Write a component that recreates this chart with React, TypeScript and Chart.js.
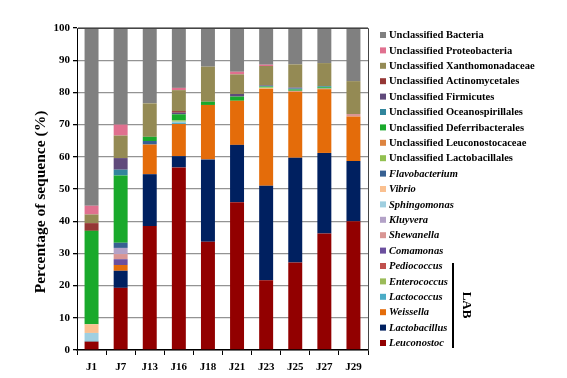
import React, { useEffect, useRef } from "react";
import { Chart, registerables } from "chart.js";

Chart.register(...registerables);

const categories = ["J1", "J7", "J13", "J16", "J18", "J21", "J23", "J25", "J27", "J29"];
const yTicks = [0, 10, 20, 30, 40, 50, 60, 70, 80, 90, 100];
const yTitle = "Percentage of sequence (%)";

// bottom of stack first
const leuconostoc = [2.6, 19.3, 38.5, 56.7, 33.6, 45.9, 21.7, 27.2, 36.2, 40.0];
const lactobacillus = [0, 5.3, 16.1, 3.5, 25.6, 17.8, 29.3, 32.5, 25.0, 18.7];
const weissella = [0, 1.8, 9.2, 10.0, 16.9, 13.7, 30.1, 20.5, 19.8, 13.8];
const lactococcus = [0.3, 0, 0, 0.4, 0, 0, 0, 0, 0, 0];
const enterococcus = [0, 0, 0, 0, 0, 0, 0, 0, 0, 0];
const pediococcus = [0, 0, 0, 0, 0, 0, 0, 0, 0, 0];
const comamonas = [0, 1.8, 0, 0, 0, 0, 0, 0, 0, 0];
const shewanella = [0, 1.6, 0, 0, 0, 0, 0, 0.3, 0.2, 0.8];
const kluyvera = [0, 1.9, 0, 0, 0, 0, 0, 0, 0, 0];
const sphingomonas = [2.4, 0, 0, 0.3, 0, 0, 0, 0, 0, 0];
const vibrio = [2.7, 0, 0, 0, 0, 0, 0.2, 0, 0, 0];
const flavobacterium = [0, 1.6, 1.1, 0, 0, 0, 0, 0, 0, 0];
const uncLactobacillales = [0, 0, 0, 0.4, 0, 0, 0.3, 0, 0, 0];
const uncLeuconostocaceae = [0, 0, 0, 0, 0, 0, 0, 0, 0, 0];
const uncDeferribacterales = [29.0, 20.9, 1.3, 1.9, 1.0, 1.3, 0.2, 0.4, 0.4, 0];
const uncOceanospirillales = [0, 1.8, 0, 0, 0, 0, 0.2, 0.3, 0.3, 0];
const uncFirmicutes = [0, 3.6, 0, 0.5, 0, 0.8, 0.2, 0.3, 0, 0];
const uncActinomycetales = [2.4, 0, 0, 0.5, 0, 0, 0, 0, 0, 0];
const uncXanthomonadaceae = [2.7, 7.0, 10.4, 6.5, 10.9, 6.1, 6.0, 7.2, 7.2, 10.2];
const uncProteobacteria = [2.7, 3.4, 0, 0.7, 0, 0.8, 0.4, 0, 0, 0];
const uncBacteria = [55.2, 30.0, 23.4, 18.6, 12.0, 13.6, 11.4, 11.3, 10.9, 16.5];

const seriesLabels = [
  "Leuconostoc", "Lactobacillus", "Weissella", "Lactococcus", "Enterococcus", "Pediococcus",
  "Comamonas", "Shewanella", "Kluyvera", "Sphingomonas", "Vibrio", "Flavobacterium",
  "Unclassified Lactobacillales", "Unclassified Leuconostocaceae", "Unclassified Deferribacterales",
  "Unclassified Oceanospirillales", "Unclassified Firmicutes", "Unclassified Actinomycetales",
  "Unclassified Xanthomonadaceae", "Unclassified Proteobacteria", "Unclassified Bacteria",
];
const seriesValues = [
  leuconostoc, lactobacillus, weissella, lactococcus, enterococcus, pediococcus,
  comamonas, shewanella, kluyvera, sphingomonas, vibrio, flavobacterium,
  uncLactobacillales, uncLeuconostocaceae, uncDeferribacterales, uncOceanospirillales,
  uncFirmicutes, uncActinomycetales, uncXanthomonadaceae, uncProteobacteria, uncBacteria,
];
const seriesColors = [
  "#920000", "#002060", "#e46c0a", "#4bacc6", "#9bbb59", "#c0504d",
  "#6b4f9e", "#d99694", "#b3a2c7", "#9fcfe0", "#fac090", "#376092",
  "#92c050", "#dd8440", "#19a92b", "#31859c",
  "#604a7b", "#953735", "#948a54", "#e0708f", "#808080",
];

const SERIF = '"Liberation Serif", "Times New Roman", serif';

const legendPlugin = {
  id: "customLegend",
  afterDraw(chart: any) {
    const ctx = chart.ctx;
    const ds = chart.data.datasets;
    const n = ds.length;
    const x0 = 380;
    const y0 = 35;
    const step = 15.4;
    ctx.save();
    ctx.textBaseline = "middle";
    ctx.textAlign = "left";
    for (let i = 0; i < n; i++) {
      const d = ds[n - 1 - i];
      const y = y0 + i * step;
      ctx.fillStyle = d.backgroundColor;
      ctx.fillRect(x0, y - 3, 6, 6);
      const italic = !d.label.startsWith("Unclassified");
      ctx.font = (italic ? "italic " : "") + "bold 10.5px " + SERIF;
      ctx.fillStyle = "#000";
      ctx.fillText(d.label, x0 + 9, y + 0.5);
    }
    // LAB bracket
    ctx.strokeStyle = "#000";
    ctx.lineWidth = 2;
    ctx.beginPath();
    ctx.moveTo(453, 263);
    ctx.lineTo(453, 348);
    ctx.stroke();
    ctx.save();
    ctx.translate(466, 305);
    ctx.rotate(Math.PI / 2);
    ctx.font = "bold 13px " + SERIF;
    ctx.textAlign = "center";
    ctx.fillText("LAB", 0, 0);
    ctx.restore();

    // y axis title
    ctx.save();
    ctx.translate(41, 202);
    ctx.rotate(-Math.PI / 2);
    ctx.font = "bold 15.5px " + SERIF;
    ctx.textAlign = "center";
    ctx.fillStyle = "#000";
    ctx.fillText(yTitle, 0, 0);
    ctx.restore();
    ctx.restore();

    // frame
    const a = chart.chartArea;
    ctx.save();
    ctx.strokeStyle = "#444";
    ctx.lineWidth = 1;
    ctx.beginPath();
    ctx.moveTo(a.left, a.top + 0.5);
    ctx.lineTo(a.right + 0.5, a.top + 0.5);
    ctx.lineTo(a.right + 0.5, a.bottom);
    ctx.stroke();
    ctx.restore();
  },
};

export default function App() {
  const ref = useRef<HTMLCanvasElement | null>(null);
  useEffect(() => {
    if (!ref.current) return;
    const chart = new Chart(ref.current, {
      type: "bar",
      data: {
        labels: categories,
        datasets: seriesLabels.map((label, i) => ({
          label,
          data: seriesValues[i],
          backgroundColor: seriesColors[i],
          borderWidth: 0,
          categoryPercentage: 1,
          barPercentage: 0.48,
        })),
      },
      options: {
        animation: false,
        responsive: false,
        maintainAspectRatio: false,
        layout: { padding: { left: 30, right: 199, top: 28, bottom: 0 } },
        plugins: { legend: { display: false }, tooltip: { enabled: false } },
        scales: {
          x: {
            stacked: true,
            offset: true,
            grid: { display: true, drawOnChartArea: false, drawTicks: true, tickLength: 5, offset: true, color: "#000" },
            border: { color: "#000", width: 1.5 },
            ticks: { color: "#000", font: { family: SERIF, size: 11, weight: "bold" }, padding: 6 },
            afterFit: (s: any) => { s.height = 28; },
          },
          y: {
            stacked: true,
            min: 0,
            max: 100,
            afterBuildTicks: (s: any) => { s.ticks = yTicks.map((v) => ({ value: v })); },
            grid: { color: "#939393", lineWidth: 1.3, tickLength: 4, tickColor: "#000" },
            border: { color: "#000", width: 1 },
            ticks: { color: "#000", font: { family: SERIF, size: 11, weight: "bold" }, padding: 3 },
            title: { display: false },
            afterFit: (s: any) => { s.width = 47; },
          },
        },
      },
      plugins: [legendPlugin],
    });
    return () => chart.destroy();
  }, []);
  return (
    <div style={{ position: "fixed", left: 0, top: 0, width: 567, height: 378, background: "#fff" }}>
      <canvas ref={ref} width={567} height={378} style={{ width: 567, height: 378 }} />
    </div>
  );
}
